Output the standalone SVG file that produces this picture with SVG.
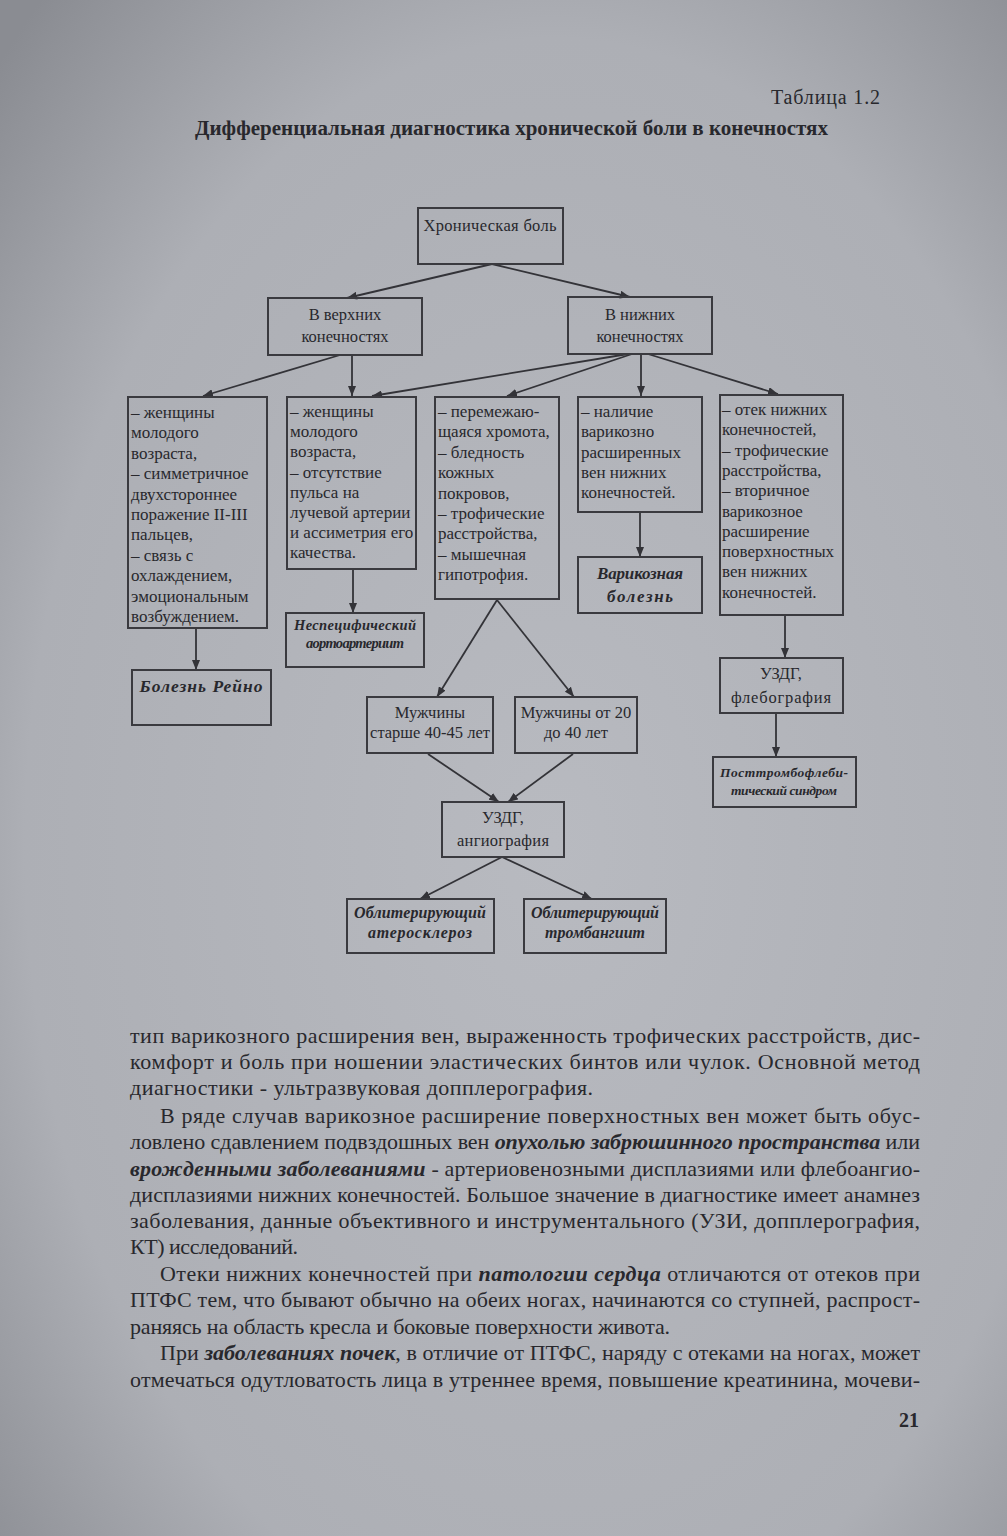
<svg xmlns="http://www.w3.org/2000/svg" width="1007" height="1536" viewBox="0 0 1007 1536">
<defs>
<radialGradient id="page" cx="0.55" cy="0.55" r="0.75">
<stop offset="0" stop-color="#b8bac0"/>
<stop offset="0.7" stop-color="#adafb5"/>
<stop offset="1" stop-color="#8a8c92"/>
</radialGradient>
<marker id="ah" markerWidth="10" markerHeight="8" refX="10" refY="4" orient="auto" markerUnits="userSpaceOnUse">
<path d="M0,0 L10,4 L0,8 z" fill="#333338"/>
</marker>
<style>
text{font-family:"Liberation Serif","Times New Roman",serif;fill:#28282d}
.box{fill:none;stroke:#3a3a3f;stroke-width:2}
.t{font-size:17px}
.c{font-size:16.5px;text-anchor:middle}
.bi{font-weight:bold;font-style:italic;text-anchor:middle}
.body{font-size:22px}
.em{font-weight:bold;font-style:italic}
#connectors line{stroke:#333338;stroke-width:1.8;marker-end:url(#ah)}
</style>
</defs>
<rect x="0" y="0" width="1007" height="1536" fill="url(#page)"/>

<text x="880" y="104" font-size="20" text-anchor="end" textLength="109">Таблица 1.2</text>
<text x="195" y="135" font-size="21" font-weight="bold" textLength="633">Дифференциальная диагностика хронической боли в конечностях</text>

<g id="connectors">
<line x1="492" y1="264" x2="347" y2="298"/>
<line x1="492" y1="264" x2="630" y2="297"/>
<line x1="340" y1="355" x2="203" y2="396"/>
<line x1="352" y1="355" x2="352" y2="396"/>
<line x1="628" y1="354" x2="372" y2="396"/>
<line x1="632" y1="354" x2="507" y2="396"/>
<line x1="641" y1="354" x2="641" y2="396"/>
<line x1="648" y1="354" x2="778" y2="394"/>
<line x1="196" y1="628" x2="196" y2="670"/>
<line x1="353" y1="569" x2="353" y2="613"/>
<line x1="497" y1="600" x2="437" y2="697"/>
<line x1="497" y1="600" x2="574" y2="697"/>
<line x1="640" y1="512" x2="640" y2="557"/>
<line x1="785" y1="615" x2="785" y2="658"/>
<line x1="776" y1="713" x2="776" y2="757"/>
<line x1="428" y1="754" x2="499" y2="802"/>
<line x1="573" y1="754" x2="508" y2="802"/>
<line x1="502" y1="857" x2="420" y2="899"/>
<line x1="502" y1="857" x2="592" y2="899"/>
</g>

<g id="n-root">
<rect class="box" x="418" y="208" width="145" height="56"/>
<text class="c" x="490" y="231" font-size="17" textLength="133">Хроническая боль</text>
</g>

<g id="n-upper">
<rect class="box" x="268" y="298" width="154" height="57"/>
<text class="c" x="345" y="320">В верхних</text>
<text class="c" x="345" y="342">конечностях</text>
</g>

<g id="n-lower">
<rect class="box" x="568" y="297" width="144" height="57"/>
<text class="c" x="640" y="320">В нижних</text>
<text class="c" x="640" y="342">конечностях</text>
</g>

<g id="n-a">
<rect class="box" x="128" y="397" width="139" height="231"/>
<text class="t" x="131" y="418">– женщины</text>
<text class="t" x="131" y="438.4">молодого</text>
<text class="t" x="131" y="458.8">возраста,</text>
<text class="t" x="131" y="479.2">– симметричное</text>
<text class="t" x="131" y="499.6">двухстороннее</text>
<text class="t" x="131" y="520">поражение II-III</text>
<text class="t" x="131" y="540.4">пальцев,</text>
<text class="t" x="131" y="560.8">– связь с</text>
<text class="t" x="131" y="581.2">охлаждением,</text>
<text class="t" x="131" y="601.6">эмоциональным</text>
<text class="t" x="131" y="622">возбуждением.</text>
</g>

<g id="n-b">
<rect class="box" x="287" y="397" width="129" height="172"/>
<text class="t" x="290" y="417">– женщины</text>
<text class="t" x="290" y="437.2">молодого</text>
<text class="t" x="290" y="457.4">возраста,</text>
<text class="t" x="290" y="477.6">– отсутствие</text>
<text class="t" x="290" y="497.8">пульса на</text>
<text class="t" x="290" y="518">лучевой артерии</text>
<text class="t" x="290" y="538.2">и ассиметрия его</text>
<text class="t" x="290" y="558.4">качества.</text>
</g>

<g id="n-c">
<rect class="box" x="435" y="397" width="124" height="202"/>
<text class="t" x="438" y="417">– перемежаю-</text>
<text class="t" x="438" y="437.4">щаяся хромота,</text>
<text class="t" x="438" y="457.8">– бледность</text>
<text class="t" x="438" y="478.2">кожных</text>
<text class="t" x="438" y="498.6">покровов,</text>
<text class="t" x="438" y="519">– трофические</text>
<text class="t" x="438" y="539.4">расстройства,</text>
<text class="t" x="438" y="559.8">– мышечная</text>
<text class="t" x="438" y="580.2">гипотрофия.</text>
</g>

<g id="n-d">
<rect class="box" x="578" y="397" width="124" height="115"/>
<text class="t" x="581" y="417">– наличие</text>
<text class="t" x="581" y="437.3">варикозно</text>
<text class="t" x="581" y="457.6">расширенных</text>
<text class="t" x="581" y="477.9">вен нижних</text>
<text class="t" x="581" y="498.2">конечностей.</text>
</g>

<g id="n-e">
<rect class="box" x="720" y="395" width="123" height="220"/>
<text class="t" x="722" y="415">– отек нижних</text>
<text class="t" x="722" y="435.3">конечностей,</text>
<text class="t" x="722" y="455.6">– трофические</text>
<text class="t" x="722" y="475.9">расстройства,</text>
<text class="t" x="722" y="496.2">– вторичное</text>
<text class="t" x="722" y="516.5">варикозное</text>
<text class="t" x="722" y="536.8">расширение</text>
<text class="t" x="722" y="557.1">поверхностных</text>
<text class="t" x="722" y="577.4">вен нижних</text>
<text class="t" x="722" y="597.7">конечностей.</text>
</g>

<g id="n-raynaud">
<rect class="box" x="132" y="670" width="139" height="55"/>
<text class="bi" x="201" y="692" font-size="17.5" textLength="123">Болезнь Рейно</text>
</g>

<g id="n-aorto">
<rect class="box" x="286" y="613" width="138" height="54"/>
<text class="bi" x="355" y="630" font-size="14.5" textLength="122">Неспецифический</text>
<text class="bi" x="355" y="648" font-size="14.5" textLength="98">аортоартериит</text>
</g>

<g id="n-varic">
<rect class="box" x="578" y="557" width="124" height="56"/>
<text class="bi" x="640" y="579" font-size="17" textLength="86">Варикозная</text>
<text class="bi" x="640" y="602" font-size="17" textLength="66">болезнь</text>
</g>

<g id="n-men-old">
<rect class="box" x="367" y="697" width="126" height="56"/>
<text class="c" x="430" y="718">Мужчины</text>
<text class="c" x="430" y="738">старше 40-45 лет</text>
</g>

<g id="n-men-young">
<rect class="box" x="515" y="697" width="122" height="56"/>
<text class="c" x="576" y="718">Мужчины от 20</text>
<text class="c" x="576" y="738">до 40 лет</text>
</g>

<g id="n-angio">
<rect class="box" x="442" y="802" width="122" height="55"/>
<text class="c" x="503" y="823" font-size="18">УЗДГ,</text>
<text class="c" x="503" y="846" font-size="18" textLength="92">ангиография</text>
</g>

<g id="n-athero">
<rect class="box" x="347" y="899" width="147" height="54"/>
<text class="bi" x="420" y="918" font-size="16" textLength="132">Облитерирующий</text>
<text class="bi" x="420" y="938" font-size="16" textLength="104">атеросклероз</text>
</g>

<g id="n-thromb">
<rect class="box" x="524" y="899" width="142" height="54"/>
<text class="bi" x="595" y="918" font-size="16" textLength="128">Облитерирующий</text>
<text class="bi" x="595" y="938" font-size="16" textLength="100">тромбангиит</text>
</g>

<g id="n-phlebo">
<rect class="box" x="720" y="658" width="123" height="55"/>
<text class="c" x="781" y="679" font-size="18">УЗДГ,</text>
<text class="c" x="781" y="703" font-size="18" textLength="100">флебография</text>
</g>

<g id="n-ptfs">
<rect class="box" x="713" y="757" width="143" height="50"/>
<text class="bi" x="784" y="777" font-size="13.5" textLength="128">Посттромбофлеби-</text>
<text class="bi" x="784" y="795" font-size="13.5" textLength="106">тический синдром</text>
</g>

<g id="body-text" class="body">
<text x="130" y="1043" textLength="790" lengthAdjust="spacing">тип варикозного расширения вен, выраженность трофических расстройств, дис-</text>
<text x="130" y="1069" textLength="790" lengthAdjust="spacing">комфорт и боль при ношении эластических бинтов  или чулок. Основной метод</text>
<text x="130" y="1095" textLength="463" lengthAdjust="spacing">диагностики - ультразвуковая допплерография.</text>
<text x="160" y="1123" textLength="760" lengthAdjust="spacing">В ряде случав варикозное расширение поверхностных вен  может быть обус-</text>
<text x="130" y="1149" textLength="790" lengthAdjust="spacing">ловлено сдавлением подвздошных вен <tspan class="em">опухолью забрюшинного пространства</tspan> или</text>
<text x="130" y="1176" textLength="790" lengthAdjust="spacing"><tspan class="em">врожденными заболеваниями</tspan> - артериовенозными  дисплазиями или флебоангио-</text>
<text x="130" y="1202" textLength="790" lengthAdjust="spacing">дисплазиями нижних конечностей. Большое значение в диагностике имеет анамнез</text>
<text x="130" y="1228" textLength="790" lengthAdjust="spacing">заболевания, данные объективного и инструментального (УЗИ, допплерография,</text>
<text x="130" y="1254" textLength="168" lengthAdjust="spacing">КТ) исследований.</text>
<text x="160" y="1281" textLength="760" lengthAdjust="spacing">Отеки нижних конечностей при <tspan class="em">патологии сердца</tspan> отличаются от отеков при</text>
<text x="130" y="1307" textLength="790" lengthAdjust="spacing">ПТФС тем, что бывают обычно на обеих ногах, начинаются со ступней, распрост-</text>
<text x="130" y="1334" textLength="540" lengthAdjust="spacing">раняясь на область кресла и боковые поверхности живота.</text>
<text x="160" y="1360" textLength="760" lengthAdjust="spacing">При <tspan class="em">заболеваниях почек</tspan>, в отличие от ПТФС, наряду с отеками на ногах, может</text>
<text x="130" y="1387" textLength="790" lengthAdjust="spacing">отмечаться одутловатость лица в утреннее время, повышение креатинина, мочеви-</text>
<text x="919" y="1427" font-size="20" font-weight="bold" text-anchor="end">21</text>
</g>
</svg>
